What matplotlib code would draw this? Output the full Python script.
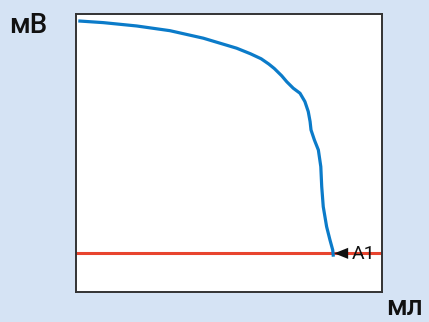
import matplotlib
matplotlib.use("Agg")
import matplotlib.pyplot as plt

# Titration curve: potential (mV) against added volume (mL), arbitrary units 0..100
volume = [0.75, 8.9, 19.8, 30.7, 41.6, 52.5, 57.0, 60.5, 63.0, 64.8, 67.2, 68.9, 71.0, 73.2,
          74.8, 75.9, 76.5, 76.8, 77.9, 79.2, 80.0, 80.3, 80.8, 81.9, 83.0, 83.9, 84.1]
potential = [97.5, 96.9, 95.7, 94.0, 91.3, 87.7, 85.7, 83.9, 82.0, 80.4, 77.8, 75.6, 73.3, 71.5,
             68.5, 64.9, 61.3, 58.3, 54.7, 51.1, 45.1, 37.9, 30.7, 23.5, 18.7, 15.1, 12.7]
endpoint_level = 13.9
endpoint_volume = 84.4
endpoint_label = "A1"

font = ["Roboto", "DejaVu Sans"]

fig = plt.figure(figsize=(4.29, 3.22), dpi=100)
fig.patch.set_facecolor("#d5e3f4")
ax = fig.add_axes([76 / 429, 1 - 292 / 322, 306 / 429, 278 / 322])
ax.set_facecolor("white")
ax.set_xlim(0, 100)
ax.set_ylim(0, 100)
ax.set_xticks([])
ax.set_yticks([])
for s in ax.spines.values():
    s.set_color("#333333")
    s.set_linewidth(1.4)

ax.axhline(endpoint_level, color="#e8442e", lw=2.2, zorder=2)
ax.plot(volume, potential, color="#0b7bc9", lw=2.3, zorder=3,
        solid_joinstyle="round", solid_capstyle="butt")

ax.annotate("", xy=(endpoint_volume, endpoint_level), xytext=(endpoint_volume + 4.6, endpoint_level),
            arrowprops=dict(arrowstyle="-|>,head_length=1.0,head_width=0.4", color="#111111",
                            lw=0, mutation_scale=10, shrinkA=0, shrinkB=0), zorder=4)
ax.text(90.0, endpoint_level - 0.3, endpoint_label, fontsize=14,
        color="#111111", va="center", ha="left", family=font)

fig.text(9 / 429, 1 - 33 / 322, "мВ", fontsize=20, fontweight="medium", ha="left",
         va="baseline", color="#111111", family=font)
fig.text(386 / 429, 1 - 315 / 322, "мл", fontsize=20, fontweight="medium", ha="left",
         va="baseline", color="#111111", family=font)

fig.savefig("out.png", dpi=100, facecolor=fig.get_facecolor())
